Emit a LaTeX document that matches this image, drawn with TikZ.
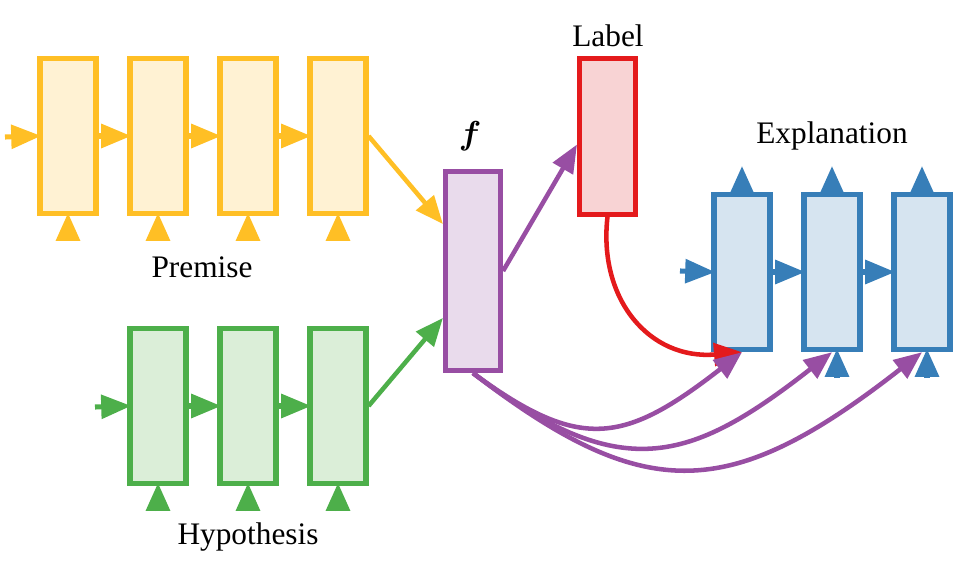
\documentclass[tikz,border=0pt]{standalone}
\usepackage{bm}
\usepackage{fontspec}
\setmainfont{Liberation Serif}
\newfontfamily\lblfont{Liberation Serif}
\usetikzlibrary{arrows.meta,calc}
\definecolor{cyel}{HTML}{FFBF25}
\definecolor{fyel}{HTML}{FFF2D3}
\definecolor{cgrn}{HTML}{4DAF4A}
\definecolor{fgrn}{HTML}{DBEED8}
\definecolor{cpur}{HTML}{984EA3}
\definecolor{fpur}{HTML}{E9DBEC}
\definecolor{cred}{HTML}{E41A1C}
\definecolor{fred}{HTML}{F8D3D4}
\definecolor{cblu}{HTML}{377EB8}
\definecolor{fblu}{HTML}{D6E4F0}
\begin{document}
\begin{tikzpicture}[x=0.75pt,y=-0.75pt,
  cell/.style={draw, line width=3.8pt, inner sep=0pt, minimum width=42pt, minimum height=116.5pt},
  fcell/.style={draw, line width=3.6pt, inner sep=0pt, minimum width=41.5pt, minimum height=149.5pt},
  harr/.style={line width=3.8pt, shorten >=-2.8pt, -{Triangle[length=22.5pt,width=17.5pt]}},
  varr/.style={line width=3.8pt, shorten >=-2.5pt, -{Triangle[length=21pt,width=17.5pt]}},
  carr/.style={line width=3.4pt, -{Triangle[length=21pt,width=17pt]}},
  lbl/.style={font=\lblfont\fontsize{23.5}{28}\selectfont, inner sep=0pt}]
\useasboundingbox (0,0) rectangle (965,563);
% Premise
\foreach \i/\x in {1/68,2/158,3/248,4/338}{
  \node[cell, fill=fyel, draw=cyel] (p\i) at (\x,136) {};
  \coordinate (pb\i) at (\x,241);
}
\coordinate (pin) at (5,137);
\draw[harr, cyel] (pin) -- (p1.west);
\draw[harr, cyel] (p1) -- (p2);
\draw[harr, cyel] (p2) -- (p3);
\draw[harr, cyel] (p3) -- (p4);
\foreach \i in {1,...,4}{\draw[varr, cyel] (pb\i) -- (p\i.south);}
\node[lbl] (plab) at (202,267) {Premise};
% Hypothesis
\foreach \i/\x in {1/158,2/248,3/338}{
  \node[cell, fill=fgrn, draw=cgrn] (h\i) at (\x,406) {};
  \coordinate (hb\i) at (\x,511);
}
\coordinate (hin) at (95,407);
\draw[harr, cgrn] (hin) -- (h1.west);
\draw[harr, cgrn] (h1) -- (h2);
\draw[harr, cgrn] (h2) -- (h3);
\foreach \i in {1,...,3}{\draw[varr, cgrn] (hb\i) -- (h\i.south);}
\node[lbl] (hlab) at (248,537) {Hypothesis};
% f
\node[fcell, fill=fpur, draw=cpur] (fbox) at (473,271) {};
\node[lbl] (flab) at (470,136) {$\bm{f}$};
\draw[carr, cyel] (p4.east) -- ($(fbox.north west)!0.27!(fbox.south west)$);
\draw[carr, cgrn] (h3.east) -- ($(fbox.north west)!0.73!(fbox.south west)$);
% Label
\node[cell, fill=fred, draw=cred] (lab) at (607.5,136.5) {};
\node[lbl] (llab) at (608,36) {Label};
\draw[carr, cpur] (fbox.east) -- ($(lab.north west)!0.55!(lab.south west)$);
% Explanation
\foreach \i/\x in {1/742,2/832,3/922}{
  \node[cell, fill=fblu, draw=cblu] (e\i) at (\x,272) {};
  \coordinate (et\i) at (\x,166);
}
\coordinate (eb2) at (837,378);
\coordinate (eb3) at (927,378);
\coordinate (ein) at (680,271);
\node[lbl] (elab) at (832,136) {Explanation};
\draw[harr, cblu] (ein) -- (e1.west);
\draw[harr, cblu] (e1) -- (e2);
\draw[harr, cblu] (e2) -- (e3);
\foreach \i in {1,...,3}{\draw[varr, cblu, shorten >=0pt] (e\i.north) -- (et\i);}
\draw[varr, cblu] (eb2) -- ($(e2.south)+(5,0)$);
\draw[varr, cblu] (eb3) -- ($(e3.south)+(5,0)$);
% curves
\draw[carr, cred] (lab.south) .. controls (598,300) and (650,360) .. (e1.south);
\draw[carr, cpur] (fbox.south) .. controls (580,452) and (624,444) .. (e1.south);
\draw[carr, cpur] (fbox.south) .. controls (620,485) and (689,464) .. (e2.south);
\draw[carr, cpur] (fbox.south) .. controls (645,505) and (729,503) .. (e3.south);
\end{tikzpicture}
\end{document}
